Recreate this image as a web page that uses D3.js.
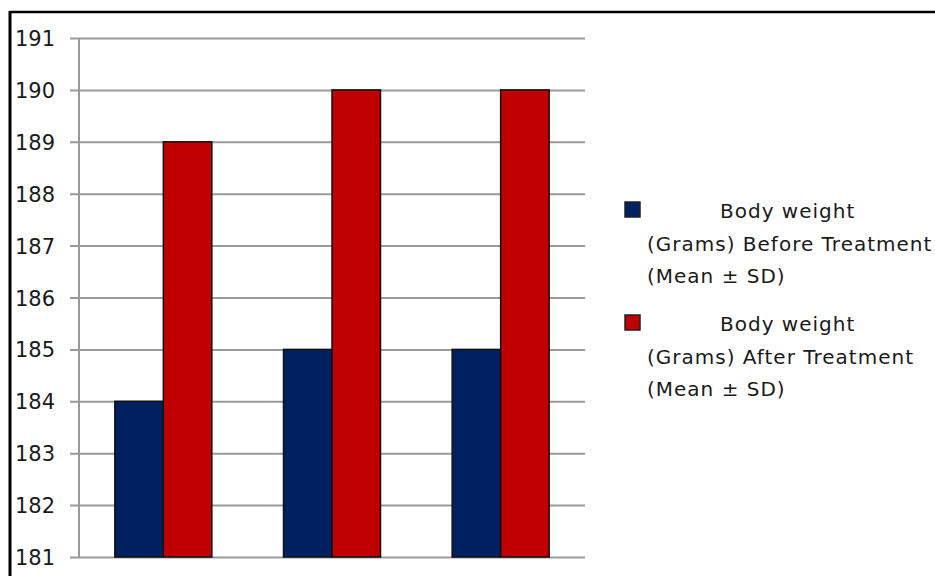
<!DOCTYPE html>
<html>
<head>
<meta charset="utf-8">
<script src="https://cdn.jsdelivr.net/npm/d3@7"></script>
<style>
  html, body { margin: 0; padding: 0; background: #fff; }
  svg { display: block; }
</style>
</head>
<body>
<svg id="chart" width="935" height="576"></svg>
<script>
// ---- data ----
const categories = ["Group 1", "Group 2", "Group 3"];
const seriesNames = [
  ["Body weight", "(Grams) Before Treatment", "(Mean \u00B1 SD)"],
  ["Body weight", "(Grams) After Treatment", "(Mean \u00B1 SD)"]
];
const beforeValues = [184, 185, 185];
const afterValues = [189, 190, 190];
const seriesColors = ["#00205F", "#C00000"];
const yTicks = [181, 182, 183, 184, 185, 186, 187, 188, 189, 190, 191];

// ---- layout ----
const svg = d3.select("#chart");
const plot = { left: 79, right: 585, top: 38, bottom: 557 };
const fontFam = "'DejaVu Sans', Verdana, sans-serif";

// outer frame (top + left visible)
svg.append("line").attr("x1", 10).attr("x2", 935).attr("y1", 12).attr("y2", 12)
  .attr("stroke", "#000").attr("stroke-width", 2.5);
svg.append("line").attr("x1", 10).attr("x2", 10).attr("y1", 11).attr("y2", 576)
  .attr("stroke", "#000").attr("stroke-width", 3);

const y = d3.scaleLinear().domain([181, 191]).range([plot.bottom, plot.top]);
const x0 = d3.scaleBand().domain(categories).range([plot.left, plot.right]).paddingInner(0).paddingOuter(0);
const barW = 48.5;
const x1 = d3.scaleBand().domain([0, 1])
  .range([x0.bandwidth() / 2 - barW, x0.bandwidth() / 2 + barW]);

// gridlines + y axis
const yAxis = d3.axisLeft(y).tickValues(yTicks).tickFormat(d3.format("d"))
  .tickSize(-(plot.right - plot.left)).tickSizeOuter(0);
const gAxis = svg.append("g").attr("transform", `translate(${plot.left},0)`).call(yAxis);
gAxis.select(".domain").remove();
gAxis.selectAll(".tick line")
  .attr("x1", -9).attr("stroke", "#9a9a9a").attr("stroke-width", 2);
gAxis.selectAll(".tick text")
  .attr("x", -24).attr("dy", "0.36em")
  .attr("font-family", fontFam).attr("font-size", 21)
  .attr("fill", "#1a1a1a").attr("text-anchor", "end");
// vertical axis line
svg.append("line").attr("x1", plot.left).attr("x2", plot.left)
  .attr("y1", y(191)).attr("y2", y(181))
  .attr("stroke", "#9a9a9a").attr("stroke-width", 2);

// bars
const data = categories.map((c, i) => ({ cat: c, vals: [beforeValues[i], afterValues[i]] }));
const groups = svg.append("g").selectAll("g").data(data).join("g")
  .attr("transform", d => `translate(${x0(d.cat)},0)`);
groups.selectAll("rect").data(d => d.vals.map((v, s) => ({ v, s }))).join("rect")
  .attr("x", d => x1(d.s))
  .attr("width", x1.bandwidth())
  .attr("y", d => y(d.v))
  .attr("height", d => y(181) - y(d.v))
  .attr("fill", d => seriesColors[d.s])
  .attr("stroke", "#111")
  .attr("stroke-width", 1.5);

// legend
const legend = svg.append("g");
const itemTop = [202, 315];
seriesNames.forEach((lines, s) => {
  const g = legend.append("g");
  g.append("rect").attr("x", 625).attr("y", itemTop[s]).attr("width", 15).attr("height", 15)
    .attr("fill", seriesColors[s]).attr("stroke", "#222").attr("stroke-width", 1.5);
  lines.forEach((t, li) => {
    g.append("text")
      .attr("x", li === 0 ? 720 : 647)
      .attr("y", itemTop[s] + 16 + li * 32.5)
      .attr("font-family", fontFam).attr("font-size", 20)
      .attr("letter-spacing", 1.0)
      .attr("fill", "#1a1a1a")
      .text(t);
  });
});
</script>
</body>
</html>
